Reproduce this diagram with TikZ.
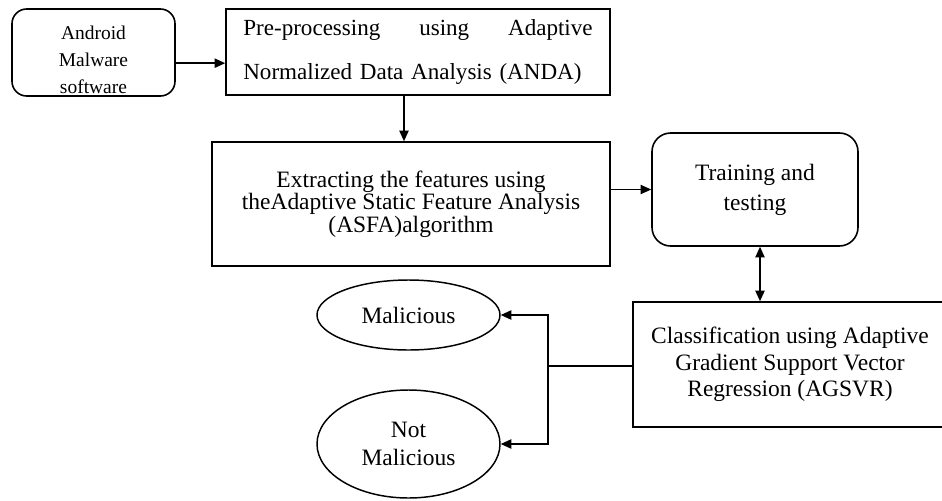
\documentclass[tikz,border=0pt]{standalone}
\usepackage{fontspec}
\setmainfont{Liberation Serif}
\usetikzlibrary{arrows.meta,shapes.geometric,calc}
\begin{document}
\begin{tikzpicture}[x=0.75pt,y=-0.75pt,
  box/.style={draw, line width=1.2pt, inner sep=0pt, align=center, font=\fontsize{17.6}{15}\selectfont},
  rbox/.style={box, rounded corners=14pt},
  oval/.style={draw, ellipse, line width=1.1pt, inner sep=0pt, align=center},
  arr/.style={-{Triangle[length=8pt,width=7pt]}, line width=1.1pt},
  darr/.style={{Triangle[length=8pt,width=7pt]}-{Triangle[length=8pt,width=7pt]}, line width=1.1pt},
  conn/.style={line width=1.1pt}]
\useasboundingbox (0,0) rectangle (942,500);

\node[rbox, minimum width=0.75*163pt, minimum height=0.75*87pt, rounded corners=11pt] (android) at (93.5,52.5) {};
\node[align=center, font=\fontsize{14.6}{20.25}\selectfont, inner sep=0pt] (androidtxt) at (93.5,60) {Android\\Malware\\software};

\node[box, minimum width=0.75*384pt, minimum height=0.75*86pt, text width=262pt, align=left, font=\fontsize{17.3}{33}\selectfont] (pre) at (418,52) {Pre-processing\hfill using\hfill Adaptive\\Normalized Data Analysis (ANDA)};

\node[box, minimum width=0.75*398pt, minimum height=0.75*124pt] (extract) at (411,204) {Extracting the features using\\theAdaptive Static Feature Analysis\\(ASFA)algorithm};

\node[rbox, minimum width=0.75*206pt, minimum height=0.75*113pt, font=\fontsize{17.6}{22.5}\selectfont] (train) at (755,189.5) {Training and\\testing};

\node[box, minimum width=0.75*314pt, minimum height=0.75*125pt, font=\fontsize{17.6}{19.9}\selectfont] (class) at (790,364.5) {Classification using Adaptive\\Gradient Support Vector\\Regression (AGSVR)};

\node[oval, minimum width=0.75*183pt, minimum height=0.75*70pt, font=\fontsize{17.6}{21}\selectfont] (mal) at (408.5,315) {Malicious};
\node[oval, minimum width=0.75*183pt, minimum height=0.75*108pt, font=\fontsize{17.6}{21}\selectfont] (notmal) at (408.5,444) {Not\\Malicious};

\draw[arr] ([yshift=-8pt]android.east) -- ([yshift=-8pt]android.east -| pre.west);
\draw[arr] ([xshift=-10.5pt]pre.south) -- ([xshift=-10.5pt]pre.south |- extract.north);
\draw[arr, line width=0.8pt] (extract.east |- train.west) -- (train.west);
\draw[darr] ([xshift=3.75pt]train.south) -- ([xshift=3.75pt]train.south |- class.north);
\coordinate (j) at (548,366);
\draw[conn] (class.west |- j) -- (j);
\draw[arr] (j) |- (mal.east);
\draw[arr] (j) |- (notmal.east);
\end{tikzpicture}
\end{document}
